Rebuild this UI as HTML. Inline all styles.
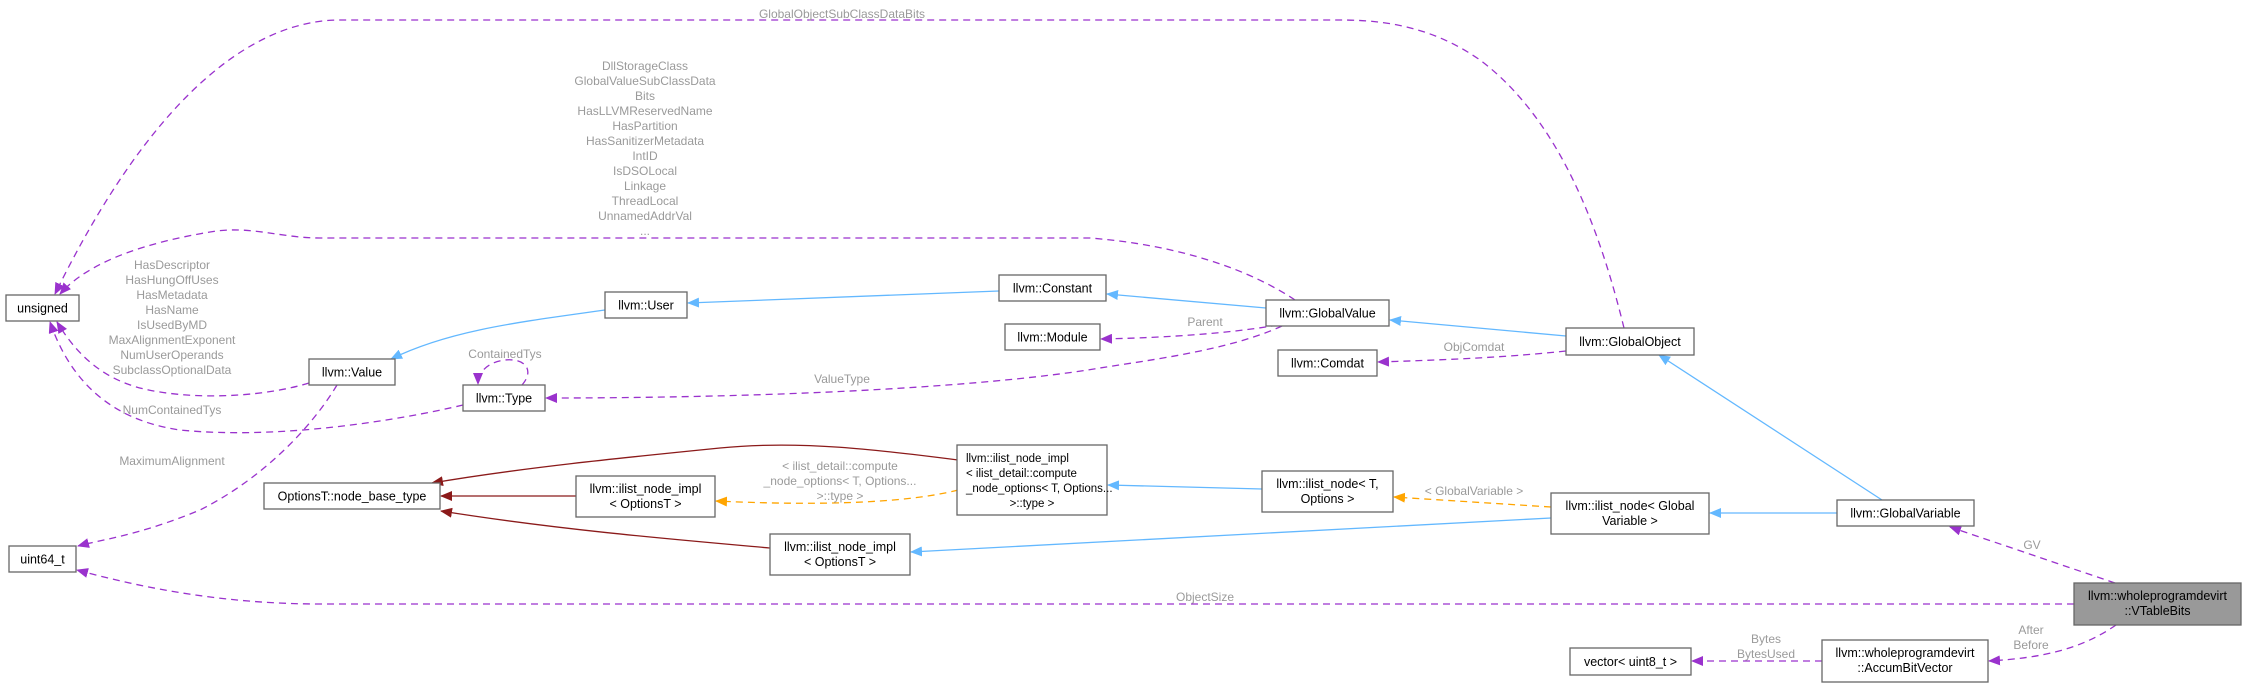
<!DOCTYPE html>
<html><head><meta charset="utf-8"><style>
html,body{margin:0;padding:0;background:#fff;}
svg{display:block;}
text{font-family:"Liberation Sans",Arial,sans-serif;}
.n{fill:#fff;stroke:#666;stroke-width:1.3;}
.t{font-size:12.5px;fill:#000;text-anchor:middle;}
.l{font-size:12px;fill:#9a9a9a;text-anchor:middle;}
.p{fill:none;stroke:#9a32cd;stroke-width:1.3;stroke-dasharray:7,5;}
.b{fill:none;stroke:#63b8ff;stroke-width:1.3;}
.r{fill:none;stroke:#8b1a1a;stroke-width:1.3;}
.o{fill:none;stroke:#ffa500;stroke-width:1.3;stroke-dasharray:7,5;}
</style></head><body>
<svg width="2246" height="687" viewBox="0 0 2246 687" xmlns="http://www.w3.org/2000/svg">
<defs>
<marker id="mp" markerWidth="12" markerHeight="10" refX="11" refY="5" orient="auto" markerUnits="userSpaceOnUse"><path d="M0,0 L12,5 L0,10 z" fill="#9a32cd"/></marker>
<marker id="mb" markerWidth="12" markerHeight="10" refX="11" refY="5" orient="auto" markerUnits="userSpaceOnUse"><path d="M0,0 L12,5 L0,10 z" fill="#63b8ff"/></marker>
<marker id="mr" markerWidth="12" markerHeight="10" refX="11" refY="5" orient="auto" markerUnits="userSpaceOnUse"><path d="M0,0 L12,5 L0,10 z" fill="#8b1a1a"/></marker>
<marker id="mo" markerWidth="12" markerHeight="10" refX="11" refY="5" orient="auto" markerUnits="userSpaceOnUse"><path d="M0,0 L12,5 L0,10 z" fill="#ffa500"/></marker>
</defs>

<path class="p" marker-end="url(#mp)" d="M1624,328 C1600,230 1560,120 1480,60 C1430,25 1380,20 1340,20 L340,20 C250,20 150,100 55,294"/>
<path class="p" marker-end="url(#mp)" d="M1295,300 C1250,270 1180,245 1090,238 L320,238 C280,238 250,225 210,232 C150,242 90,260 60,294"/>
<path class="p" marker-end="url(#mp)" d="M309,383 C270,395 210,400 160,392 C110,385 80,360 57,322"/>
<path class="p" marker-end="url(#mp)" d="M463,405 C400,420 280,440 180,430 C110,420 70,380 50,322"/>
<path class="p" marker-end="url(#mp)" d="M522,385 C535,370 525,358 505,360 C488,362 478,372 478,384"/>
<path class="p" marker-end="url(#mp)" d="M337,385 C310,430 260,480 200,510 C140,535 100,540 78,546"/>
<path class="p" marker-end="url(#mp)" d="M2074,604 L320,604 C230,604 150,590 77,570"/>
<path class="b" marker-end="url(#mb)" d="M605,310 C520,322 450,330 391,359"/>
<path class="b" marker-end="url(#mb)" d="M999,291 L688,303"/>
<path class="b" marker-end="url(#mb)" d="M1266,308 L1107,294"/>
<path class="b" marker-end="url(#mb)" d="M1566,336 L1390,320"/>
<path class="p" marker-end="url(#mp)" d="M1278,325 C1220,335 1150,338 1101,339"/>
<path class="p" marker-end="url(#mp)" d="M1282,326 C1230,350 1150,360 1100,368 C1000,385 800,398 546,398"/>
<path class="p" marker-end="url(#mp)" d="M1566,351 C1500,358 1440,360 1378,362"/>
<path class="b" marker-end="url(#mb)" d="M1882,500 L1659,355"/>
<path class="b" marker-end="url(#mb)" d="M1837,513 L1710,513"/>
<path class="o" marker-end="url(#mo)" d="M1551,507 L1394,497"/>
<path class="b" marker-end="url(#mb)" d="M1551,518 L911,552"/>
<path class="b" marker-end="url(#mb)" d="M1262,489 L1108,485"/>
<path class="o" marker-end="url(#mo)" d="M958,490 C900,505 800,505 716,501"/>
<path class="r" marker-end="url(#mr)" d="M958,460 C880,450 800,440 720,448 C620,458 520,468 432,483"/>
<path class="r" marker-end="url(#mr)" d="M576,496 L441,496"/>
<path class="r" marker-end="url(#mr)" d="M770,548 C680,540 560,530 441,511"/>
<path class="p" marker-end="url(#mp)" d="M2115,583 L1950,527"/>
<path class="p" marker-end="url(#mp)" d="M2116,625 C2080,650 2040,658 1989,661"/>
<path class="p" marker-end="url(#mp)" d="M1822,661 L1692,661"/>

<text class="l" x="842" y="18">GlobalObjectSubClassDataBits</text>
<text class="l" x="645" y="70">DllStorageClass</text>
<text class="l" x="645" y="85">GlobalValueSubClassData</text>
<text class="l" x="645" y="100">Bits</text>
<text class="l" x="645" y="115">HasLLVMReservedName</text>
<text class="l" x="645" y="130">HasPartition</text>
<text class="l" x="645" y="145">HasSanitizerMetadata</text>
<text class="l" x="645" y="160">IntID</text>
<text class="l" x="645" y="175">IsDSOLocal</text>
<text class="l" x="645" y="190">Linkage</text>
<text class="l" x="645" y="205">ThreadLocal</text>
<text class="l" x="645" y="220">UnnamedAddrVal</text>
<text class="l" x="645" y="235">...</text>
<text class="l" x="172" y="269">HasDescriptor</text>
<text class="l" x="172" y="284">HasHungOffUses</text>
<text class="l" x="172" y="299">HasMetadata</text>
<text class="l" x="172" y="314">HasName</text>
<text class="l" x="172" y="329">IsUsedByMD</text>
<text class="l" x="172" y="344">MaxAlignmentExponent</text>
<text class="l" x="172" y="359">NumUserOperands</text>
<text class="l" x="172" y="374">SubclassOptionalData</text>
<text class="l" x="505" y="358">ContainedTys</text>
<text class="l" x="842" y="383">ValueType</text>
<text class="l" x="172" y="414">NumContainedTys</text>
<text class="l" x="172" y="465">MaximumAlignment</text>
<text class="l" x="840" y="470">&lt; ilist_detail::compute</text>
<text class="l" x="840" y="485">_node_options&lt; T, Options...</text>
<text class="l" x="840" y="500">&gt;::type &gt;</text>
<text class="l" x="1205" y="601">ObjectSize</text>
<text class="l" x="1205" y="326">Parent</text>
<text class="l" x="1474" y="351">ObjComdat</text>
<text class="l" x="1474" y="495">&lt; GlobalVariable &gt;</text>
<text class="l" x="2032" y="549">GV</text>
<text class="l" x="2031" y="634">After</text>
<text class="l" x="2031" y="649">Before</text>
<text class="l" x="1766" y="643">Bytes</text>
<text class="l" x="1766" y="658">BytesUsed</text>

<rect class="n" x="6" y="295" width="73" height="26"/><text class="t" x="42.5" y="312.5">unsigned</text>
<rect class="n" x="9" y="546" width="67" height="26"/><text class="t" x="42.5" y="563.5">uint64_t</text>
<rect class="n" x="309" y="359" width="86" height="26"/><text class="t" x="352" y="376.5">llvm::Value</text>
<rect class="n" x="605" y="292" width="82" height="26"/><text class="t" x="646" y="309.5">llvm::User</text>
<rect class="n" x="463" y="385" width="82" height="26"/><text class="t" x="504" y="402.5">llvm::Type</text>
<rect class="n" x="999" y="275" width="107" height="26"/><text class="t" x="1052.5" y="292.5">llvm::Constant</text>
<rect class="n" x="1005" y="324" width="95" height="26"/><text class="t" x="1052.5" y="341.5">llvm::Module</text>
<rect class="n" x="264" y="483" width="176" height="26"/><text class="t" x="352" y="500.5">OptionsT::node_base_type</text>
<rect class="n" x="576" y="476" width="139" height="41"/><text class="t" x="645.5" y="493">llvm::ilist_node_impl</text><text class="t" x="645.5" y="508">&lt; OptionsT &gt;</text>
<rect class="n" x="770" y="534" width="140" height="41"/><text class="t" x="840" y="551">llvm::ilist_node_impl</text><text class="t" x="840" y="566">&lt; OptionsT &gt;</text>
<rect class="n" x="957" y="445" width="150" height="70"/>
<text class="t" x="966" y="462" style="text-anchor:start;font-size:11.5px">llvm::ilist_node_impl</text>
<text class="t" x="966" y="477" style="text-anchor:start;font-size:11.5px">&lt; ilist_detail::compute</text>
<text class="t" x="966" y="492" style="text-anchor:start;font-size:11.5px">_node_options&lt; T, Options...</text>
<text class="t" x="1032" y="507" style="font-size:11.5px">&gt;::type &gt;</text>
<rect class="n" x="1266" y="300" width="123" height="26"/><text class="t" x="1327.5" y="317.5">llvm::GlobalValue</text>
<rect class="n" x="1566" y="328" width="128" height="27"/><text class="t" x="1630" y="346">llvm::GlobalObject</text>
<rect class="n" x="1278" y="350" width="99" height="26"/><text class="t" x="1327.5" y="367.5">llvm::Comdat</text>
<rect class="n" x="1262" y="471" width="131" height="41"/><text class="t" x="1327.5" y="488">llvm::ilist_node&lt; T,</text><text class="t" x="1327.5" y="503">Options &gt;</text>
<rect class="n" x="1551" y="493" width="158" height="41"/><text class="t" x="1630" y="510">llvm::ilist_node&lt; Global</text><text class="t" x="1630" y="525">Variable &gt;</text>
<rect class="n" x="1837" y="500" width="137" height="26"/><text class="t" x="1905.5" y="517.5">llvm::GlobalVariable</text>
<rect x="2074" y="583" width="167" height="42" fill="#999" stroke="#666" stroke-width="1.3"/><text class="t" x="2157.5" y="600">llvm::wholeprogramdevirt</text><text class="t" x="2157.5" y="615">::VTableBits</text>
<rect class="n" x="1822" y="640" width="166" height="42"/><text class="t" x="1905" y="657">llvm::wholeprogramdevirt</text><text class="t" x="1905" y="672">::AccumBitVector</text>
<rect class="n" x="1570" y="648" width="121" height="27"/><text class="t" x="1630.5" y="666">vector&lt; uint8_t &gt;</text>
</svg>
</body></html>
